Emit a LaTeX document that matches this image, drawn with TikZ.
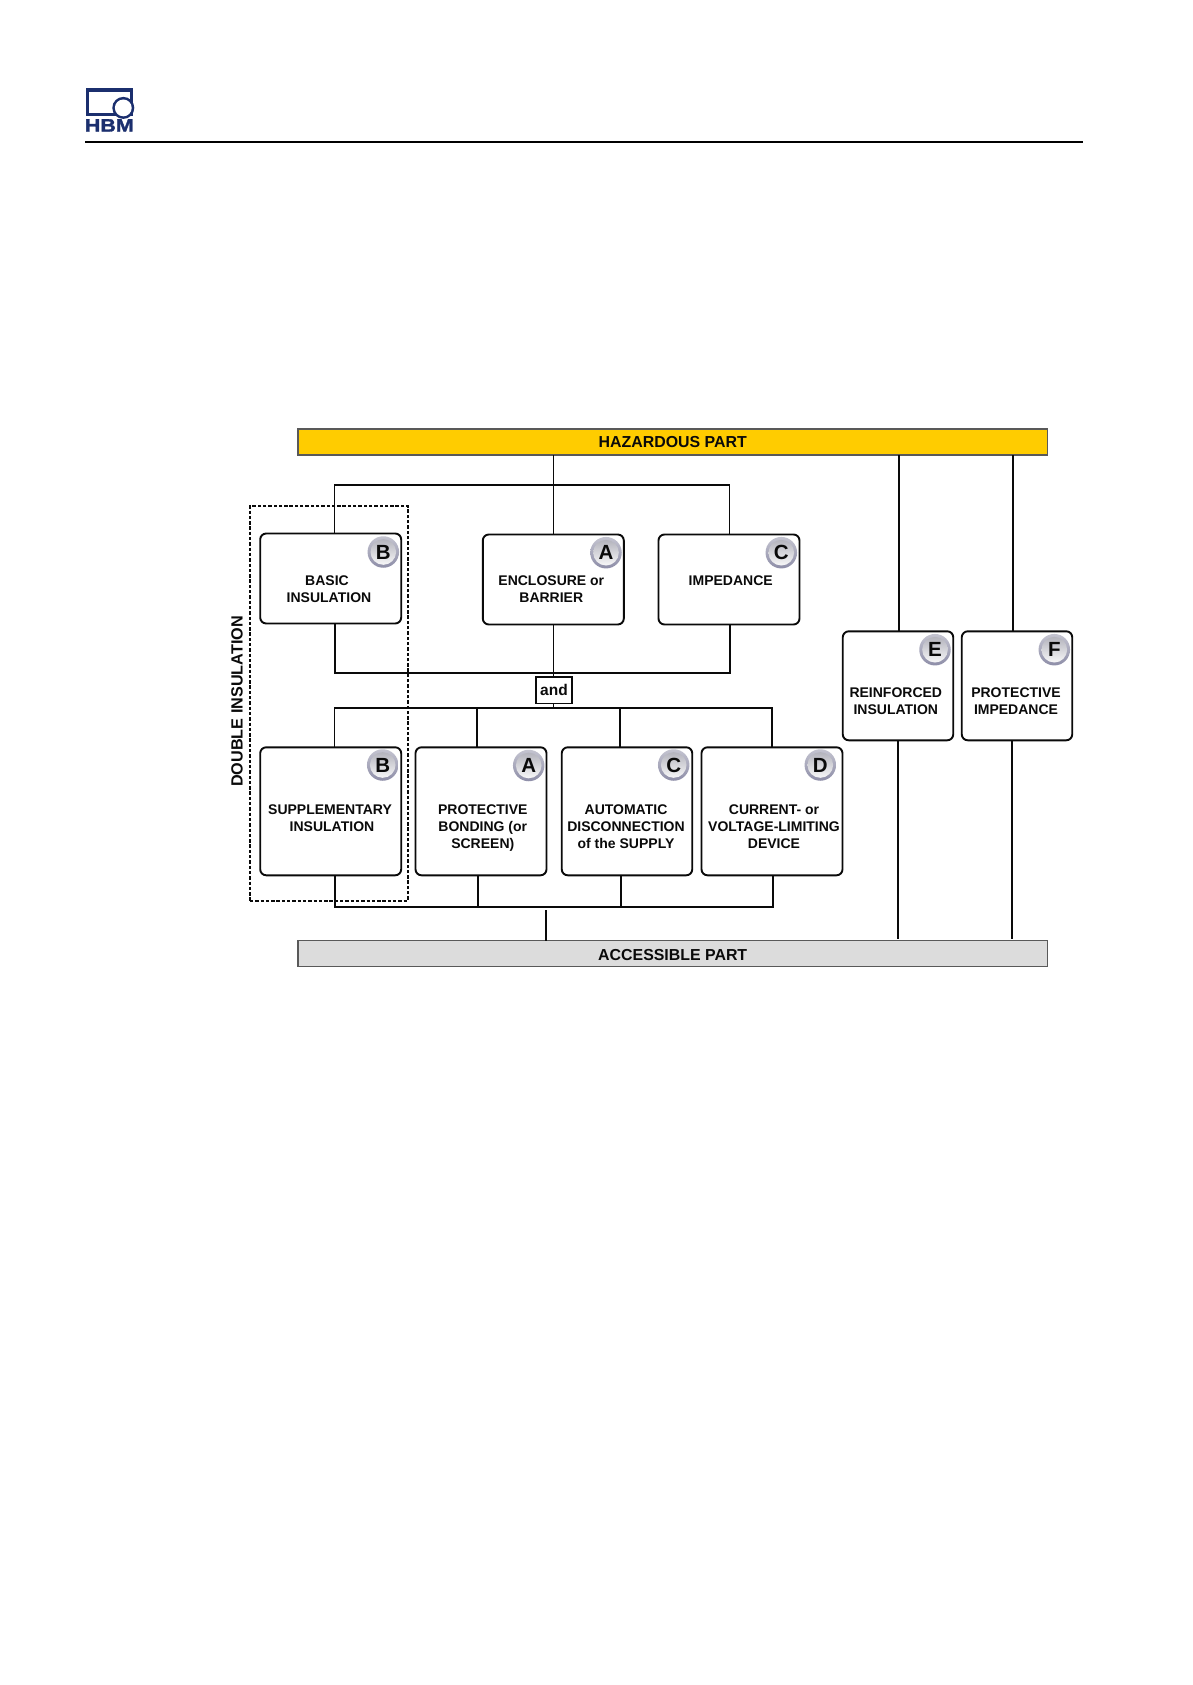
\documentclass[tikz,border=0pt]{standalone}
\usepackage{fontspec}
\setmainfont{Liberation Sans}
\newfontfamily\logofont[FakeBold=1.6]{Liberation Sans Bold}
\definecolor{hbmblue}{HTML}{1B2F6E}
\definecolor{hazard}{HTML}{FFCC00}
\definecolor{access}{HTML}{DCDCDC}
\definecolor{ink}{HTML}{0A0A0A}
\definecolor{ringtop}{HTML}{C4C4D0}
\definecolor{ringbot}{HTML}{8E8EA8}
\definecolor{disctop}{HTML}{ACACB6}
\tikzset{
  wire/.style={draw=ink,line width=1.9pt,line cap=butt,line join=miter},
  card/.style={draw=ink,fill=white,line width=1.9pt,rounded corners=6pt,inner sep=0pt,outer sep=0pt},
  cardtext/.style={font=\fontsize{14pt}{17pt}\selectfont\bfseries,text=ink,align=center,inner sep=0pt},
  bar/.style={draw=black!65,line width=1.2pt,inner sep=0pt,outer sep=0pt,minimum width=749.5pt,minimum height=26pt},
  bartext/.style={inner sep=0pt,font=\fontsize{15.9pt}{17pt}\selectfont\bfseries,text=ink},
  badge/.style={circle,minimum size=31.5pt,inner sep=0pt,outer sep=0pt,top color=ringtop,bottom color=ringbot,
     font=\fontsize{20.5pt}{20pt}\selectfont\bfseries,text=ink,
     path picture={\shade[top color=disctop,bottom color=white] (path picture bounding box.center) circle (12.8pt);}},
  andbox/.style={draw=ink,fill=white,line width=1.9pt,inner sep=0pt,outer sep=0pt,minimum width=36.5pt,minimum height=26.5pt,
     font=\fontsize{15.5pt}{17pt}\selectfont\bfseries,text=ink},
  dashbox/.style={draw=ink,line width=1.7pt,dash pattern=on 3.4pt off 1.9pt,inner sep=0pt,outer sep=0pt,minimum width=157.7pt,minimum height=395.3pt},
}
\begin{document}
\begin{tikzpicture}[x=1pt,y=-1pt]
\useasboundingbox (0,0) rectangle (1192,1685);
\fill[white] (0,0) rectangle (1192,1685);

% logo
\fill[hbmblue] (85.5,88.5) rectangle (133.3,116.4);
\fill[white] (88.7,92) rectangle (130.1,113.4);
\fill[hbmblue] (123.3,107.9) rectangle (133.3,116.4);
\fill[hbmblue] (123.3,107.9) circle (11pt);
\fill[white] (123.3,107.9) circle (8.4pt);
\node[inner sep=0pt,text=hbmblue,font=\fontsize{18pt}{18pt}\selectfont\logofont] (logotext) at (109.3,125.4) {\scalebox{1.19}[1]{HBM}};
\fill[black] (85,140.6) rectangle (1083,142.8);

% bars
\node[bar,fill=hazard] (hazardbar) at (672.7,442) {};
\node[bartext] (thazard) at (672.7,442) {HAZARDOUS PART};
\node[bar,fill=access] (accessbar) at (672.7,953.5) {};
\node[bartext] (taccess) at (672.7,955) {ACCESSIBLE PART};

% coordinates of the rails
\coordinate (aL) at (334.5,484.7);
\coordinate (aM) at (553.5,484.7);
\coordinate (aR) at (729.5,484.7);
\coordinate (bL) at (335,673);
\coordinate (bM) at (553.5,673);
\coordinate (bR) at (729.7,673);
\coordinate (cL) at (334.5,707.7);
\coordinate (c1) at (477,707.7);
\coordinate (cM) at (553.5,707.7);
\coordinate (c2) at (620.3,707.7);
\coordinate (cR) at (771.7,707.7);
\coordinate (dL) at (335,907.3);
\coordinate (d1) at (477.7,907.3);
\coordinate (d2) at (621,907.3);
\coordinate (dR) at (772.7,907.3);
\coordinate (st) at (546,910);
\coordinate (eTop) at (898.7,455);
\coordinate (fTop) at (1013,455);
\coordinate (eBot) at (897.7,939);
\coordinate (fBot) at (1012.3,939);

% cards
\node[card,minimum width=141pt,minimum height=90pt] (basic) at (330.7,578.5) {};
\node[card,minimum width=141pt,minimum height=90pt] (encl) at (553.3,579.5) {};
\node[card,minimum width=141pt,minimum height=90pt] (imped) at (729,579.5) {};
\node[card,minimum width=141pt,minimum height=128pt] (suppl) at (330.7,811.3) {};
\node[card,minimum width=131pt,minimum height=128pt] (bond) at (481,811.3) {};
\node[card,minimum width=130.5pt,minimum height=128pt] (auto) at (627,811.3) {};
\node[card,minimum width=141pt,minimum height=128pt] (dev) at (772,811.3) {};
\node[card,minimum width=110.5pt,minimum height=109pt] (reinf) at (898,685.8) {};
\node[card,minimum width=110.5pt,minimum height=109pt] (pimp) at (1017,685.8) {};
\node[andbox] (andn) at (554,690.2) {and};

% connectors
\draw[wire] (hazardbar.south -| aM) -- (encl.north -| aM);
\draw[wire] (basic.north -| aL) -- (aL) -- (aR) -- (imped.north -| aR);
\draw[wire] (basic.south -| bL) -- (bL) -- (bR) -- (imped.south -| bR);
\draw[wire] (encl.south -| bM) -- (andn.north -| bM);
\draw[wire] (andn.south -| cM) -- (cM);
\draw[wire] (suppl.north -| cL) -- (cL) -- (cR) -- (dev.north -| cR);
\draw[wire] (c1) -- (bond.north -| c1);
\draw[wire] (c2) -- (auto.north -| c2);
\draw[wire] (suppl.south -| dL) -- (dL) -- (dR) -- (dev.south -| dR);
\draw[wire] (bond.south -| d1) -- (d1);
\draw[wire] (auto.south -| d2) -- (d2);
\draw[wire] (st) -- (accessbar.north -| st);
\draw[wire] (eTop) -- (reinf.north -| eTop);
\draw[wire] (fTop) -- (pimp.north -| fTop);
\draw[wire] (reinf.south -| eBot) -- (eBot);
\draw[wire] (pimp.south -| fBot) -- (fBot);

% dashed group
\node[dashbox] (dbl) at (328.8,703.4) {};
\node[rotate=90,inner sep=0pt,text=ink,font=\fontsize{16.2pt}{17pt}\selectfont\bfseries] (dbltext) at (237,701.5) {DOUBLE INSULATION};

% card labels
\node[cardtext] (tbasic) at (327,589.3) {BASIC\\\hspace*{4pt}INSULATION};
\node[cardtext] (tencl) at (551.3,589.3) {ENCLOSURE or\\BARRIER};
\node[cardtext] (timped) at (730.7,580.6) {IMPEDANCE};
\node[cardtext] (tsuppl) at (330,817.8) {SUPPLEMENTARY\\\hspace*{4pt}INSULATION};
\node[cardtext] (tbond) at (482.8,828) {PROTECTIVE\\BONDING (or\\SCREEN)};
\node[cardtext] (tauto) at (626,826.3) {AUTOMATIC\\DISCONNECTION\\of the SUPPLY};
\node[cardtext] (tdev) at (774,826.3) {CURRENT- or\\VOLTAGE-LIMITING\\DEVICE};
\node[cardtext] (treinf) at (895.8,701) {REINFORCED\\INSULATION};
\node[cardtext] (tpimp) at (1016,701) {PROTECTIVE\\IMPEDANCE};

% badges
\node[badge] (b1) at (383.3,552) {B};
\node[badge] (b2) at (606,552.7) {A};
\node[badge] (b3) at (781.3,552.7) {C};
\node[badge] (b4) at (382.7,765) {B};
\node[badge] (b5) at (528.7,765.5) {A};
\node[badge] (b6) at (673.7,765) {C};
\node[badge] (b7) at (820.3,765) {D};
\node[badge] (b8) at (935,649.7) {E};
\node[badge] (b9) at (1054.3,649.7) {F};
\end{tikzpicture}
\end{document}
